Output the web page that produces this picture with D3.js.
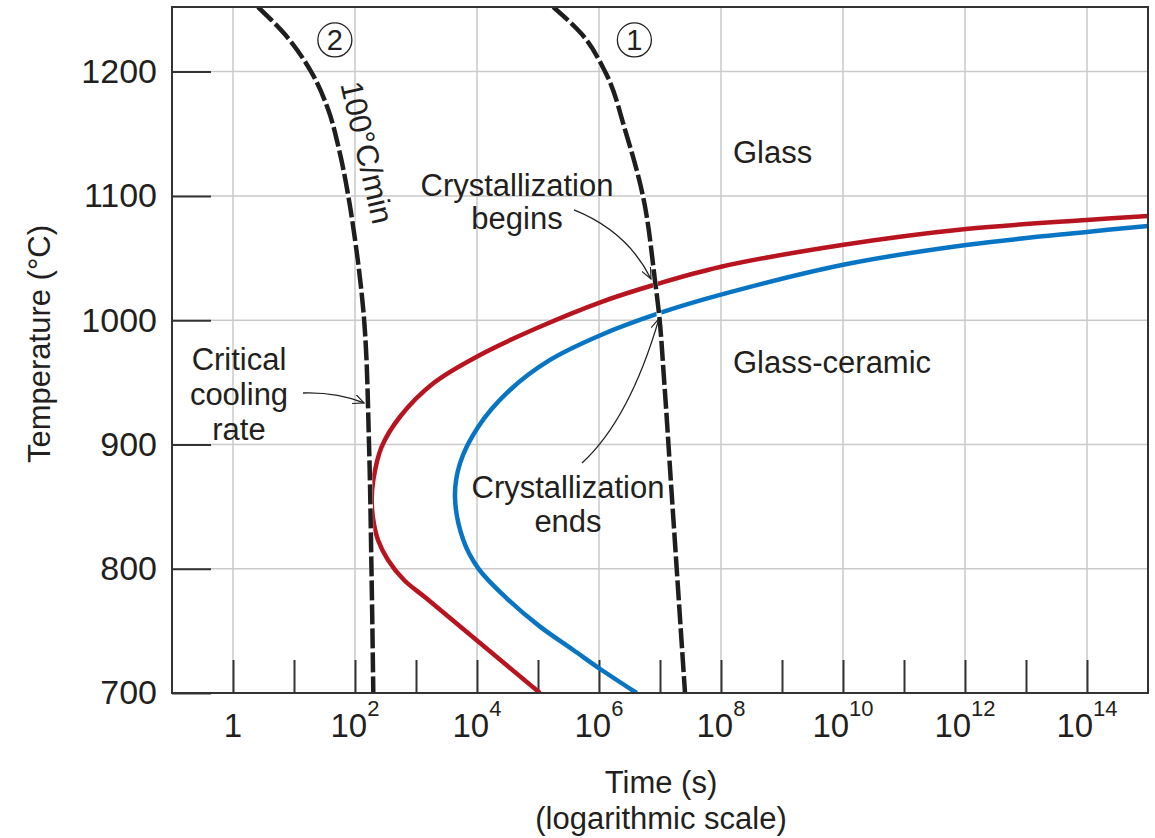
<!DOCTYPE html>
<html>
<head>
<meta charset="utf-8">
<script src="https://cdn.jsdelivr.net/npm/d3@7"></script>
<style>
  body { margin: 0; background: #fff; }
  text { font-family: "Liberation Sans", Arial, sans-serif; fill: #231f20; }
</style>
</head>
<body>
<div id="container"></div>
<script>
let w = 1155;
let h = 838;

// values: time as log10(seconds), temperature in C
// every curve runs from its hot end down to 700 C

// crystallization begins (red)
let beginsLogT = [15.0, 14.0, 12.016, 9.984, 7.984, 6.951, 6.033, 4.984, 4.049, 3.284, 2.738, 2.438, 2.300, 2.274, 2.295, 2.377, 2.541, 2.803, 3.164, 4.049, 5.033];
let beginsTemp = [1083.8, 1080.6, 1073.4, 1060.5, 1042.8, 1029.1, 1014.6, 993.7, 972.0, 949.2, 922.3, 898.2, 871.4, 855.3, 840.8, 823.1, 807.0, 790.9, 776.4, 740.2, 700];

// crystallization ends (blue)
let endsLogT = [15.0, 14.0, 12.016, 9.984, 7.984, 7.0, 6.033, 5.197, 4.541, 4.021, 3.721, 3.639, 3.775, 4.021, 4.487, 5.033, 5.579, 6.044, 6.618];
let endsTemp = [1075.8, 1071.0, 1060.5, 1044.4, 1020.3, 1005.8, 988.1, 968.0, 943.8, 914.3, 884.8, 858.0, 823.1, 800.3, 776.2, 753.4, 734.6, 718.5, 700];

// cooling curve 1 and curve 2 (critical cooling rate, 100 C/min)
let cool1LogT = [5.25, 5.72, 6.10, 6.44, 6.72, 6.92, 6.98, 7.07, 7.18, 7.41];
let cool1Temp = [1252, 1230, 1200, 1151, 1100, 1031, 1007, 950, 869, 700];
let cool2LogT = [0.41, 0.85, 1.28, 1.56, 1.74, 1.89, 2.0, 2.15, 2.23, 2.27, 2.30];
let cool2Temp = [1252, 1230, 1200, 1169.5, 1137, 1100, 1065, 1000, 900, 800, 700];

// axis ticks
let tempTicks = [700, 800, 900, 1000, 1100, 1200];
let tempGrid = [800, 900, 1000, 1100, 1200];
let decadeTicks = [0, 1, 2, 3, 4, 5, 6, 7, 8, 9, 10, 11, 12, 13, 14];
let labelExps = [0, 2, 4, 6, 8, 10, 12, 14];

// pair the arrays up into points
function toPoints(logs, temps){
  return logs.map(function(l, i){
    return { t: Math.pow(10, l), T: temps[i] };
  });
}

let margin = { left: 172, top: 7, right: 7, bottom: 145 };
let x = d3.scaleLog().domain([1e-1, 1e15]).range([margin.left, w - margin.right]);
let y = d3.scaleLinear().domain([700, 1252]).range([h - margin.bottom, margin.top]);

let viz = d3.select("#container")
  .append("svg")
    .attr("width", w)
    .attr("height", h)
    .style("background-color", "#fff");

viz.append("clipPath").attr("id", "plotclip")
  .append("rect")
    .attr("x", margin.left).attr("y", margin.top)
    .attr("width", w - margin.left - margin.right)
    .attr("height", h - margin.top - margin.bottom);

// arrow head for the annotation leaders
viz.append("defs").append("marker")
    .attr("id", "arrowhead")
    .attr("viewBox", "0 0 12 10")
    .attr("refX", 11).attr("refY", 5)
    .attr("markerWidth", 12).attr("markerHeight", 10)
    .attr("markerUnits", "userSpaceOnUse")
    .attr("orient", "auto")
  .append("path")
    .attr("d", "M0,0 L11,5 L0,10")
    .attr("fill", "none")
    .attr("stroke", "#231f20")
    .attr("stroke-width", 1.2);

// grid
let grid = viz.append("g").attr("class", "grid");
grid.selectAll(".vgrid").data(labelExps).enter().append("line")
  .attr("x1", d => x(Math.pow(10, d))).attr("x2", d => x(Math.pow(10, d)))
  .attr("y1", y.range()[1]).attr("y2", y.range()[0])
  .attr("stroke", "#c9c9c9").attr("stroke-width", 1.5);
grid.selectAll(".hgrid").data(tempGrid).enter().append("line")
  .attr("x1", x.range()[0]).attr("x2", x.range()[1])
  .attr("y1", d => y(d)).attr("y2", d => y(d))
  .attr("stroke", "#c9c9c9").attr("stroke-width", 1.5);

// axes, ticks pointing into the plot
let yAxis = d3.axisLeft(y).tickValues(tempTicks).tickFormat(d3.format("d"))
  .tickSizeInner(-39).tickSizeOuter(0).tickPadding(15);
let yAxisGroup = viz.append("g").attr("class", "yaxis")
  .attr("transform", "translate(" + margin.left + ",0)")
  .call(yAxis);
yAxisGroup.select(".domain").remove();
yAxisGroup.selectAll("line").attr("stroke", "#333").attr("stroke-width", 2);
yAxisGroup.selectAll("text")
  .attr("font-size", 34)
  .attr("fill", "#231f20")
  .attr("font-family", "Liberation Sans, Arial, sans-serif");

let xAxis = d3.axisBottom(x)
  .tickValues(decadeTicks.map(d => Math.pow(10, d)))
  .tickSizeInner(-33).tickSizeOuter(0).tickFormat("");
let xAxisGroup = viz.append("g").attr("class", "xaxis")
  .attr("transform", "translate(0," + (h - margin.bottom) + ")")
  .call(xAxis);
xAxisGroup.select(".domain").remove();
xAxisGroup.selectAll("line").attr("stroke", "#333").attr("stroke-width", 2);

// x tick labels as powers of ten
let xLabels = viz.append("g").attr("class", "xlabels");
labelExps.forEach(function(e){
  let t = xLabels.append("text")
    .attr("x", x(Math.pow(10, e)))
    .attr("y", 737)
    .attr("text-anchor", "middle")
    .attr("font-size", 33);
  if(e == 0){
    t.text("1");
  }else{
    t.append("tspan").text("10");
    t.append("tspan").attr("dy", -21).attr("font-size", 22).text(e);
  }
});

// curves
let line = d3.line()
  .x(d => x(d.t))
  .y(d => y(d.T))
  .curve(d3.curveCatmullRom.alpha(0.5));
// cooling curves: temperature falls steadily, keep them monotone
let coolLine = d3.line()
  .x(d => x(d.t))
  .y(d => y(d.T))
  .curve(d3.curveMonotoneY);

let vizgroup = viz.append("g").attr("clip-path", "url(#plotclip)");

let cool1 = toPoints(cool1LogT, cool1Temp);
let cool2 = toPoints(cool2LogT, cool2Temp);

vizgroup.append("path").datum(toPoints(beginsLogT, beginsTemp))
  .attr("d", line).attr("fill", "none")
  .attr("stroke", "#b8141f").attr("stroke-width", 4.5);
vizgroup.append("path").datum(toPoints(endsLogT, endsTemp))
  .attr("d", line).attr("fill", "none")
  .attr("stroke", "#0874c4").attr("stroke-width", 4.5);

[cool1, cool2].forEach(function(c){
  vizgroup.append("path").datum(c)
    .attr("d", coolLine).attr("fill", "none")
    .attr("stroke", "#fff").attr("stroke-width", 5);
  vizgroup.append("path").datum(c)
    .attr("d", coolLine).attr("fill", "none")
    .attr("stroke", "#1e1e1e").attr("stroke-width", 4.5)
    .attr("stroke-dasharray", "20,4");
});

// frame
viz.append("rect")
  .attr("x", x.range()[0]).attr("y", y.range()[1])
  .attr("width", x.range()[1] - x.range()[0])
  .attr("height", y.range()[0] - y.range()[1])
  .attr("fill", "none").attr("stroke", "#333").attr("stroke-width", 2);

// annotations
let notes = viz.append("g").attr("class", "notes").attr("font-size", 31);

function addLines(lines, cx, baseline, step, anchor){
  lines.forEach(function(s, i){
    notes.append("text")
      .attr("x", cx).attr("y", baseline + i * step)
      .attr("text-anchor", anchor)
      .text(s);
  });
}
addLines(["Critical", "cooling", "rate"], 239, 370, 35, "middle");
addLines(["Crystallization", "begins"], 517, 196, 33, "middle");
addLines(["Crystallization", "ends"], 568, 498, 34, "middle");
addLines(["Glass"], 733, 163, 0, "start");
addLines(["Glass-ceramic"], 733, 373, 0, "start");

// circled curve numbers
[["2", 1.67], ["1", 6.58]].forEach(function(c){
  let cx = x(Math.pow(10, c[1]));
  let cy = y(1225.5);
  notes.append("circle").attr("cx", cx).attr("cy", cy).attr("r", 17)
    .attr("fill", "#fff").attr("stroke", "#231f20").attr("stroke-width", 1.3);
  notes.append("text").attr("x", cx).attr("y", cy + 10.5)
    .attr("text-anchor", "middle").attr("font-size", 29).text(c[0]);
});

// rate label along curve 2
notes.append("text")
  .attr("transform", "translate(" + x(Math.pow(10, 2.2)) + "," + y(1135) + ") rotate(77)")
  .attr("text-anchor", "middle")
  .attr("dy", "0.35em")
  .attr("font-size", 31)
  .text("100°C/min");

// leader arrows: start, control, end in (log10 t, T)
let arrows = [
  [[1.148, 941.4], [1.697, 942.2], [2.148, 933.4]],
  [[5.59, 1088.7], [6.467, 1071.4], [6.852, 1033.2]],
  [[5.721, 885.1], [6.5, 920.1], [6.984, 1001.3]]
];
arrows.forEach(function(a){
  let p = a.map(d => [x(Math.pow(10, d[0])), y(d[1])]);
  viz.append("path")
    .attr("d", "M" + p[0] + " Q" + p[1] + " " + p[2])
    .attr("fill", "none")
    .attr("stroke", "#231f20")
    .attr("stroke-width", 1.3)
    .attr("marker-end", "url(#arrowhead)");
});

// axis titles
viz.append("text")
  .attr("transform", "translate(50,344) rotate(-90)")
  .attr("text-anchor", "middle")
  .attr("font-size", 31)
  .text("Temperature (°C)");
viz.append("text")
  .attr("x", 661).attr("y", 793)
  .attr("text-anchor", "middle")
  .attr("font-size", 31)
  .text("Time (s)");
viz.append("text")
  .attr("x", 661).attr("y", 829)
  .attr("text-anchor", "middle")
  .attr("font-size", 31)
  .text("(logarithmic scale)");
</script>
</body>
</html>
